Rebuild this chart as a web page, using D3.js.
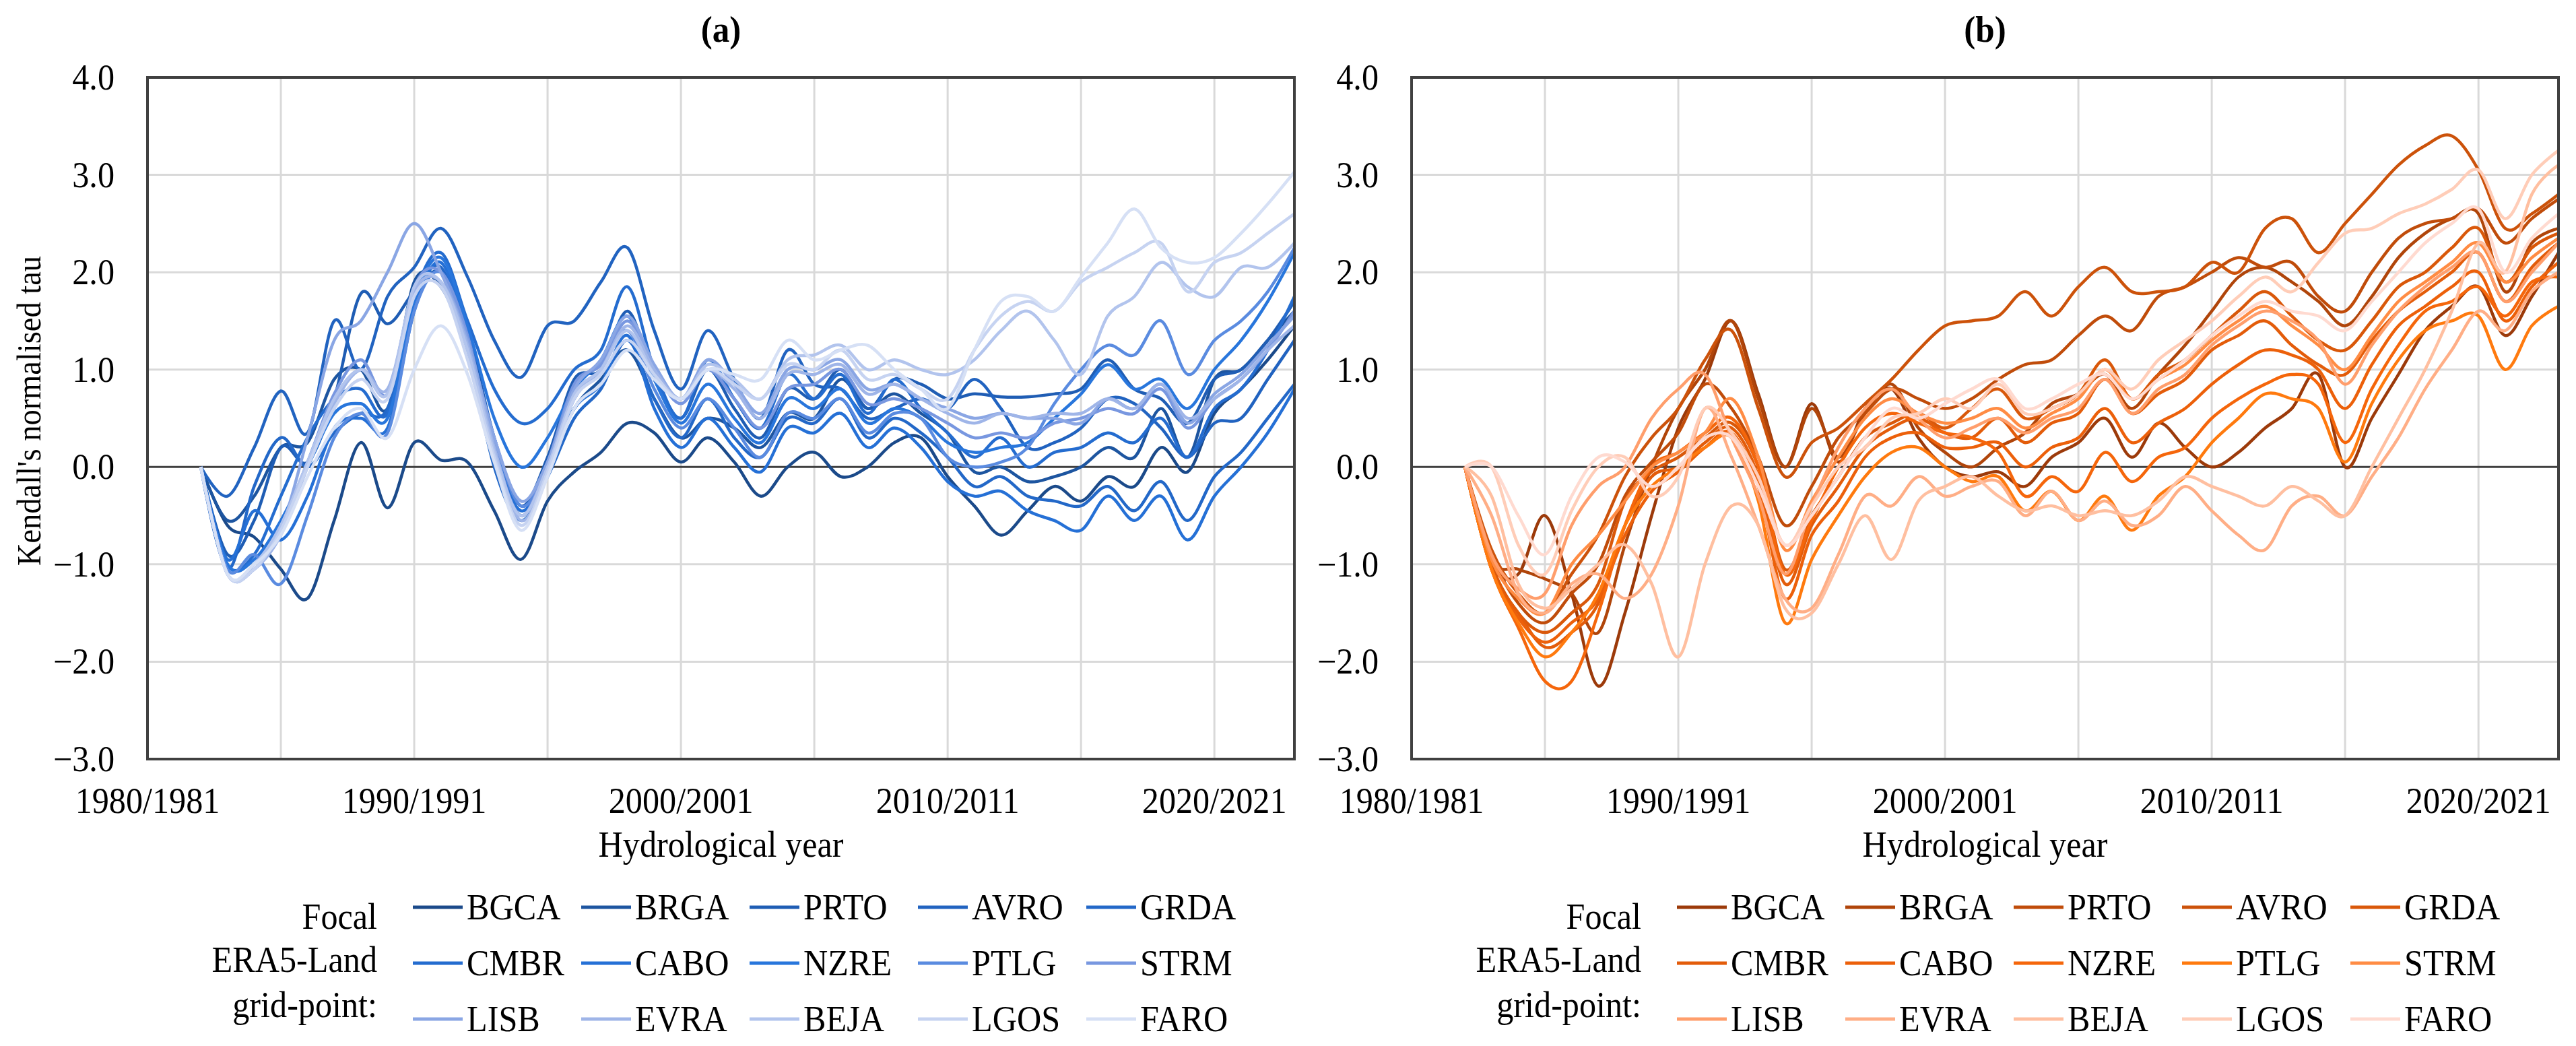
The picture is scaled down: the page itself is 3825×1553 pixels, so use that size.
<!DOCTYPE html>
<html>
<head>
<meta charset="utf-8">
<script src="https://cdn.jsdelivr.net/npm/d3@7"></script>
<style>
  body { margin: 0; background: #fff; }
  text { font-family: 'Liberation Serif', 'Times New Roman', serif; fill: #000; }
</style>
</head>
<body>
<svg id="chart" width="3825" height="1553"></svg>
<script>
// hydrological years 1982/1983 .. 2023/2024 (start year)
const years = d3.range(1982, 2024);
const names = ['BGCA', 'BRGA', 'PRTO', 'AVRO', 'GRDA', 'CMBR', 'CABO', 'NZRE', 'PTLG', 'STRM', 'LISB', 'EVRA', 'BEJA', 'LGOS', 'FARO'];
const xTicks = [1980, 1990, 2000, 2010, 2020];
const xTickLabels = ['1980/1981', '1990/1991', '2000/2001', '2010/2011', '2020/2021'];
const yTicks = [-3, -2, -1, 0, 1, 2, 3, 4];

const bluesColors = ['#1b4a8a', '#1d55a0', '#1f5db4', '#2163c0', '#2368c8', '#246ccf', '#2570d6', '#2876dc', '#5a8be0', '#7897e0', '#8aa6e4', '#9fb5e8', '#b2c4ed', '#c6d3f1', '#d6e0f5'];
const orangeColors = ['#9c3a0a', '#b0450a', '#c04c0a', '#cc520a', '#d9580a', '#e35c0a', '#ec600a', '#f5660b', '#ff7a0e', '#ff8c44', '#ff9e6c', '#ffae86', '#ffbfa0', '#ffcdb8', '#ffdad0'];

// panel (a): Kendall's normalised tau per grid-point
const tauA = [
  [0,-0.6,-0.72,-1.05,-1.35,-0.55,0.25,-0.42,0.25,0.07,0.05,-0.45,-0.95,-0.35,-0.05,0.15,0.45,0.35,0.05,0.3,0.05,-0.3,0.0,0.15,-0.1,0.0,0.25,0.3,-0.1,-0.4,-0.7,-0.45,-0.2,-0.35,-0.1,-0.2,0.2,-0.05,0.55,0.8,1.1,1.45],
  [0,-0.55,-0.3,0.2,0.25,0.9,1.0,0.6,1.9,1.85,1.2,0.2,-0.5,0.0,0.6,0.9,1.2,0.7,0.3,0.5,0.4,0.2,0.55,0.5,0.9,0.6,0.75,0.55,0.35,-0.05,0.0,-0.15,-0.1,0.0,0.2,0.1,0.6,0.1,0.9,1.0,1.3,1.6],
  [0,-0.9,-0.55,0.2,0.05,0.7,1.78,1.47,1.8,2.0,1.4,0.3,-0.4,0.1,0.9,1.0,1.6,0.9,0.5,1.0,0.6,0.3,0.8,0.7,1.0,0.6,0.9,0.85,0.7,0.75,0.72,0.72,0.75,0.8,1.1,0.8,0.7,0.45,0.9,1.0,1.3,1.7],
  [0,-0.3,0.2,0.78,0.35,1.5,1.0,1.75,2.05,2.45,1.95,1.3,0.92,1.45,1.5,1.9,2.25,1.4,0.8,1.4,0.9,0.5,1.2,0.85,0.8,0.5,0.6,0.7,0.6,0.9,0.6,0.2,0.25,0.4,0.7,0.65,0.4,0.1,0.45,0.5,0.9,1.3],
  [0,-1.05,-0.2,0.3,0.0,0.35,0.55,0.6,1.7,2.05,1.2,0.0,-0.55,-0.1,0.5,0.8,1.3,0.7,0.3,0.7,0.3,0.1,0.5,0.45,0.7,0.3,0.5,0.35,0.1,-0.2,-0.1,-0.3,-0.35,-0.4,-0.2,-0.45,-0.15,-0.55,-0.1,0.15,0.5,0.85],
  [0,-1.0,-0.9,-0.3,0.3,0.7,0.8,0.55,1.75,2.2,1.5,0.8,0.45,0.6,1.0,1.2,1.85,1.0,0.5,1.1,0.7,0.4,0.95,0.7,0.95,0.55,0.9,0.6,0.35,0.1,0.3,0.0,0.15,0.2,0.35,0.25,0.5,0.1,0.6,0.8,1.2,1.75],
  [0,-0.95,-0.45,-0.75,-0.3,0.4,0.5,0.4,1.6,2.1,1.3,0.2,-0.45,0.0,0.6,0.85,1.35,0.6,0.2,0.5,0.2,-0.05,0.4,0.35,0.55,0.2,0.4,0.2,-0.15,-0.3,-0.25,-0.45,-0.55,-0.65,-0.3,-0.55,-0.3,-0.75,-0.3,0.0,0.35,0.8],
  [0,-1.0,-0.95,-0.55,0.0,0.55,0.65,0.5,1.7,2.15,1.45,0.5,0.0,0.3,0.8,1.1,1.55,0.9,0.45,0.85,0.5,0.25,0.7,0.6,0.8,0.45,0.6,0.5,0.25,0.15,0.2,0.25,0.5,0.75,1.05,0.8,0.9,0.6,1.0,1.3,1.7,2.2],
  [0,-1.05,-0.9,-1.2,-0.5,0.3,0.55,0.35,1.6,2.0,1.3,0.3,-0.4,0.0,0.7,1.0,1.4,0.8,0.4,0.7,0.4,0.1,0.55,0.5,0.7,0.35,0.55,0.5,0.1,0.0,0.05,0.2,0.65,1.0,1.25,1.15,1.5,0.95,1.3,1.5,1.8,2.25],
  [0,-1.1,-1.0,-0.6,0.05,0.75,1.1,0.75,1.85,2.0,1.35,0.2,-0.5,0.05,0.85,1.05,1.5,1.0,0.65,1.0,0.7,0.4,0.8,0.85,1.0,0.65,0.7,0.6,0.45,0.3,0.35,0.3,0.45,0.5,0.6,0.55,0.8,0.4,0.7,0.9,1.2,1.6],
  [0,-1.1,-1.05,-0.65,0.3,1.3,1.5,2.0,2.5,2.0,1.3,0.3,-0.35,0.05,0.8,1.1,1.55,1.05,0.7,1.1,0.85,0.55,1.0,1.0,1.1,0.8,0.85,0.7,0.6,0.5,0.55,0.5,0.5,0.45,0.7,0.6,0.85,0.45,0.75,0.95,1.25,1.55],
  [0,-1.1,-1.05,-0.7,0.0,0.65,1.0,0.8,1.8,1.9,1.25,0.2,-0.55,-0.05,0.7,1.0,1.45,1.0,0.7,1.0,0.8,0.5,0.95,0.95,1.05,0.75,0.85,0.7,0.55,0.45,0.55,0.5,0.55,0.55,0.7,0.6,0.85,0.5,0.7,0.9,1.2,1.45],
  [0,-1.1,-1.0,-0.6,0.05,0.7,1.0,0.75,1.85,1.9,1.2,0.15,-0.5,0.0,0.75,1.0,1.4,0.95,0.7,1.05,0.9,0.7,1.1,1.15,1.25,1.0,1.1,1.0,0.95,1.1,1.4,1.6,1.3,0.95,1.55,1.75,2.1,1.85,1.75,2.05,2.05,2.3],
  [0,-1.1,-1.05,-0.65,0.0,0.6,0.9,0.7,1.75,1.85,1.1,0.1,-0.6,-0.05,0.7,0.95,1.3,0.95,0.7,1.0,0.85,0.7,1.05,1.0,1.2,0.9,0.95,0.8,0.7,1.2,1.55,1.7,1.6,1.9,2.05,2.2,2.3,1.8,2.1,2.2,2.4,2.6],
  [0,-1.1,-1.0,-0.7,-0.1,0.4,0.6,0.3,1.0,1.45,0.95,0.05,-0.65,-0.1,0.6,0.85,1.2,0.9,0.7,1.0,0.95,0.9,1.3,1.1,1.2,1.25,1.0,0.8,0.6,1.2,1.7,1.75,1.6,1.95,2.3,2.65,2.25,2.1,2.15,2.4,2.7,3.03]
];

// panel (b)
const tauB = [
  [0,-1.0,-1.1,-0.5,-1.3,-2.25,-1.5,-0.5,0.4,0.9,1.5,0.75,0.0,0.65,0.05,0.6,0.8,0.3,0.0,-0.1,-0.05,-0.2,0.1,0.25,0.5,0.1,0.45,0.2,0.0,0.15,0.4,0.6,0.95,0.0,0.5,0.95,1.4,1.65,1.85,1.35,1.75,2.2],
  [0,-0.95,-1.05,-1.15,-1.3,-1.7,-0.8,0.0,0.6,1.0,1.5,0.7,0.0,0.6,0.1,0.55,0.85,0.4,0.15,0.0,0.2,0.35,0.65,0.75,0.95,0.6,0.95,1.25,1.6,1.95,2.05,1.9,1.7,1.45,1.75,2.15,2.4,2.55,2.6,1.8,2.3,2.45],
  [0,-0.9,-1.4,-1.6,-1.3,-1.0,-0.3,0.05,0.35,0.85,0.6,0.1,-0.6,-0.2,0.3,0.55,0.8,0.7,0.6,0.7,0.9,1.05,1.1,1.35,1.55,1.4,1.75,1.85,2.0,2.15,2.05,2.1,1.75,1.6,2.0,2.35,2.5,2.55,2.65,2.3,2.55,2.75],
  [0,-0.85,-1.3,-1.5,-1.1,-0.7,-0.1,0.3,0.6,1.1,1.4,0.6,-0.1,0.25,0.4,0.65,0.9,1.2,1.45,1.5,1.55,1.8,1.55,1.85,2.05,1.8,1.8,1.85,2.1,2.0,2.45,2.55,2.2,2.5,2.8,3.1,3.3,3.4,3.05,2.45,2.6,2.8],
  [0,-1.0,-1.5,-1.7,-1.5,-1.2,-0.35,-0.05,0.1,0.3,0.45,0.0,-1.05,-0.5,-0.1,0.3,0.45,0.55,0.4,0.6,0.8,0.5,0.6,0.75,1.1,0.7,0.95,1.1,1.35,1.6,1.8,1.55,1.3,1.2,1.5,1.85,2.0,2.25,2.45,1.9,2.25,2.4],
  [0,-1.05,-1.5,-1.85,-1.7,-1.4,-0.6,-0.1,0.0,0.25,0.4,-0.1,-1.2,-0.6,-0.2,0.2,0.4,0.5,0.35,0.3,0.5,0.25,0.45,0.55,0.9,0.55,0.75,0.9,1.2,1.35,1.5,1.25,1.05,0.95,1.3,1.6,1.8,2.0,2.2,1.7,2.05,2.3],
  [0,-1.05,-1.55,-1.8,-1.6,-1.35,-0.7,-0.25,-0.05,0.2,0.35,-0.2,-1.35,-0.7,-0.35,0.1,0.3,0.35,0.2,0.2,0.25,0.0,0.2,0.3,0.6,0.25,0.45,0.6,0.85,1.05,1.2,1.15,1.0,0.6,1.05,1.45,1.65,1.85,2.0,1.5,1.85,2.1],
  [0,-1.05,-1.65,-2.2,-2.2,-1.5,-0.6,0.0,0.15,0.35,0.5,0.0,-1.1,-0.55,0.0,0.4,0.55,0.45,0.35,0.3,0.15,-0.3,-0.1,-0.25,0.15,-0.15,0.1,0.2,0.5,0.7,0.85,0.95,0.85,0.25,0.8,1.25,1.6,1.7,1.85,1.55,1.9,1.95],
  [0,-1.05,-1.6,-1.95,-1.7,-1.3,-0.6,-0.2,0.0,0.2,0.3,-0.35,-1.6,-0.95,-0.5,-0.1,0.15,0.2,0.0,-0.15,-0.1,-0.45,-0.25,-0.55,-0.3,-0.65,-0.3,-0.1,0.25,0.5,0.75,0.7,0.6,0.05,0.65,1.1,1.4,1.5,1.55,1.0,1.45,1.65],
  [0,-0.95,-1.35,-1.5,-1.0,-0.7,-0.35,0.0,0.15,0.35,0.7,0.1,-0.85,-0.35,0.1,0.5,0.7,0.55,0.45,0.5,0.6,0.4,0.55,0.7,1.0,0.7,0.9,1.05,1.3,1.5,1.65,1.45,1.25,1.0,1.35,1.7,1.9,2.1,2.3,1.9,2.15,2.35],
  [0,-0.9,-1.25,-1.3,-0.6,-0.2,0.0,0.5,0.8,0.95,0.3,-0.3,-1.1,-0.4,0.2,0.6,0.8,0.5,0.3,0.4,0.5,0.35,0.5,0.6,0.9,0.55,0.8,0.95,1.25,1.45,1.6,1.5,1.3,0.85,1.25,1.6,1.85,2.05,2.2,1.7,2.0,2.3],
  [0,-0.5,-1.3,-1.5,-1.2,-1.1,-1.35,-1.1,-0.4,0.6,0.1,-0.6,-1.35,-1.45,-0.9,-0.3,-0.4,-0.1,-0.3,-0.2,-0.15,-0.5,-0.25,-0.55,-0.35,-0.6,-0.5,-0.2,-0.45,-0.7,-0.85,-0.4,-0.3,-0.5,-0.1,0.3,0.8,1.2,1.6,1.4,1.8,2.0],
  [0,-0.3,-1.2,-1.45,-1.25,-1.0,-0.8,-1.2,-1.95,-1.0,-0.4,-0.6,-1.45,-1.5,-1.0,-0.5,-0.95,-0.35,-0.2,-0.1,-0.3,-0.45,-0.4,-0.5,-0.45,-0.5,-0.35,-0.1,-0.2,-0.3,-0.4,-0.2,-0.35,-0.5,0.0,0.5,1.0,1.6,2.3,2.0,2.8,3.1],
  [0,0.0,-0.8,-1.1,-0.45,0.0,0.1,-0.3,-0.1,0.6,0.35,-0.1,-0.8,-0.4,0.0,0.2,0.5,0.55,0.7,0.6,0.85,0.55,0.6,0.75,1.0,0.8,1.1,1.3,1.5,1.75,1.95,1.8,2.1,2.4,2.45,2.6,2.7,2.85,3.05,2.55,3.0,3.25],
  [0,0.0,-0.5,-0.9,-0.3,0.1,0.05,-0.2,0.0,0.3,0.3,-0.2,-0.8,-0.5,-0.1,0.3,0.6,0.5,0.65,0.8,0.9,0.6,0.7,0.85,0.95,0.7,0.9,1.1,1.35,1.55,1.7,1.6,1.55,1.4,1.7,2.0,2.3,2.5,2.65,2.0,2.35,2.6]
];

const svg = d3.select('#chart');
svg.append('rect').attr('width', 3825).attr('height', 1553).attr('fill', '#fff');

const plotTop = 115, plotBottom = 1127;
const fontSize = 54;
const squeeze = 0.93; // Times-like glyphs in the original look a bit narrow

// text drawn at (x, y) with a slight horizontal squeeze
function label(g, x, y, str, anchor, size, rotate) {
  return g.append('text')
    .attr('transform', `translate(${x},${y})${rotate ? ' rotate(' + rotate + ')' : ''} scale(${squeeze},1)`)
    .attr('text-anchor', anchor || 'start')
    .style('font-size', (size || fontSize) + 'px')
    .text(str);
}

function drawPanel(left, right, title, series, colors, showYTitle) {
  const x = d3.scaleLinear().domain([1980, 2023]).range([left, right]);
  const y = d3.scaleLinear().domain([-3, 4]).range([plotBottom, plotTop]);
  const g = svg.append('g');

  // grid
  g.selectAll('.vgrid')
    .data(d3.range(1985, 2023, 5))
    .enter().append('line')
    .attr('x1', d => x(d)).attr('x2', d => x(d))
    .attr('y1', plotTop).attr('y2', plotBottom)
    .attr('stroke', '#d9d9d9').attr('stroke-width', 3);

  g.selectAll('.hgrid')
    .data(yTicks.filter(d => d !== 0 && d !== -3 && d !== 4))
    .enter().append('line')
    .attr('x1', left).attr('x2', right)
    .attr('y1', d => y(d)).attr('y2', d => y(d))
    .attr('stroke', '#d9d9d9').attr('stroke-width', 3);

  // zero line
  g.append('line')
    .attr('x1', left).attr('x2', right)
    .attr('y1', y(0)).attr('y2', y(0))
    .attr('stroke', '#404040').attr('stroke-width', 3);

  // series
  const line = d3.line()
    .x((d, i) => x(years[i]))
    .y(d => y(d))
    .curve(d3.curveCardinal.tension(0));

  series.forEach((s, k) => {
    g.append('path')
      .datum(s)
      .attr('fill', 'none')
      .attr('stroke', colors[k])
      .attr('stroke-width', 4.5)
      .attr('stroke-linejoin', 'round')
      .attr('d', line);
  });

  // frame
  g.append('rect')
    .attr('x', left).attr('y', plotTop)
    .attr('width', right - left).attr('height', plotBottom - plotTop)
    .attr('fill', 'none').attr('stroke', '#404040').attr('stroke-width', 4);

  // y tick labels
  yTicks.forEach(d => {
    label(g, left - 49, y(d) + 18, (d < 0 ? '\u2212' : '') + Math.abs(d).toFixed(1), 'end');
  });

  // x tick labels
  xTicks.forEach((d, i) => {
    label(g, x(d), 1207, xTickLabels[i], 'middle');
  });

  const cx = (left + right) / 2;
  label(g, cx, 1272, 'Hydrological year', 'middle');

  label(g, cx, 62, title, 'middle', 55).style('font-weight', 'bold');

  if (showYTitle) {
    label(g, 60, 610, "Kendall's normalised tau", 'middle', 50, -90);
  }

  // legend
  ['Focal', 'ERA5-Land', 'grid-point:'].forEach((t, i) => {
    label(g, left + 341, [1379, 1443, 1510][i], t, 'end');
  });
  const rowY = [1347, 1430, 1513];
  names.forEach((n, k) => {
    const col = k % 5, row = Math.floor(k / 5);
    const sx = left + 394 + col * 250;
    g.append('line')
      .attr('x1', sx).attr('x2', sx + 74)
      .attr('y1', rowY[row]).attr('y2', rowY[row])
      .attr('stroke', colors[k]).attr('stroke-width', 5);
    label(g, sx + 80, rowY[row] + 18, n, 'start');
  });
}

drawPanel(219, 1922, '(a)', tauA, bluesColors, true);
drawPanel(2096, 3799, '(b)', tauB, orangeColors, false);
</script>
</body>
</html>
